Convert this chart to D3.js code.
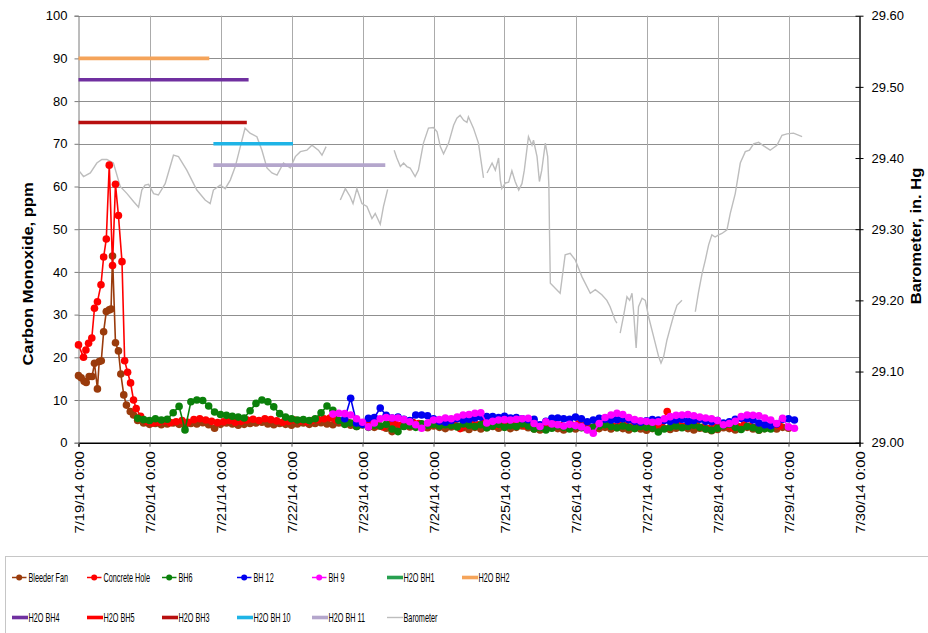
<!DOCTYPE html>
<html>
<head>
<meta charset="utf-8">
<script src="https://cdn.jsdelivr.net/npm/d3@7"></script>
<style>
body { margin: 0; background: #fff; }
text { font-family: "Liberation Sans", Arial, sans-serif; fill: #000; }
</style>
</head>
<body>
<div id="chart"></div>
<script>
// all times are hours counted from 7/19/14 0:00

// Bleeder Fan: early readings (explicit hours), then one reading every 2 h from hour 20
var bleederPeakHours = [0, 0.9, 1.9, 2.6, 3.6, 4.6, 5.4, 6.4, 7.0, 7.7, 8.5, 9.4, 10.4, 11.0, 11.5, 12.5, 13.5, 14.3, 15.3, 16.2, 17.5, 18.6];
var bleederPeakValues = [15.7, 15.2, 14.4, 14.1, 15.5, 15.5, 18.6, 12.6, 19.0, 19.2, 26.0, 30.7, 31.1, 31.3, 43.7, 23.4, 21.5, 16.1, 11.2, 8.8, 7.3, 6.5];
var bleederStart = 20;
var bleederValues = [5.2, 4.6, 4.3, 4.5, 4.2, 4.4, 4.6, 4.3, 4.1, 4.5, 4.4, 4.7, 4.2, 3.4, 4.3, 4.6, 4.4, 4.1, 4.3, 4.5,
  4.6, 4.8, 4.4, 4.2, 4.5, 4.3, 4.1, 4.4, 4.6, 4.3, 4.5, 4.7, 4.4, 4.2, 4.6, 4.4, 4.1, 3.8, 4.2, 3.9,
  3.6, 3.9, 3.4, 2.6, 3.6, 3.9, 3.7, 4.1, 3.8, 3.5, 3.9, 3.6, 3.3, 3.7, 3.9, 3.5, 3.1, 3.6, 3.2, 3.5,
  3.8, 3.4, 3.7, 3.3, 3.6, 3.9, 3.5, 3.2, 3.0, 3.4, 3.7, 3.3, 3.0, 3.4, 3.2, 3.6, 3.3, 2.9, 3.3, 3.6,
  3.2, 3.5, 3.3, 3.0, 3.4, 3.2, 2.9, 3.3, 3.6, 3.4, 3.1, 3.4, 3.7, 3.3, 3.0, 3.4, 3.2, 2.8, 3.1, 3.5,
  3.3, 3.0, 3.4, 3.6, 3.2, 2.9, 3.3, 3.5, 3.2, 3.6, 3.4];

// Concrete Hole
var concretePeakHours = [0, 1.7, 2.5, 3.4, 4.5, 5.4, 6.4, 7.6, 8.5, 9.4, 10.4, 11.5, 12.5, 13.5, 14.7, 15.6, 16.6, 17.6, 18.6, 19.5];
var concretePeakValues = [22.9, 20.0, 21.7, 23.3, 24.5, 31.5, 33.0, 37.0, 43.5, 47.7, 65.0, 41.5, 60.5, 53.2, 42.4, 19.2, 16.5, 14.0, 10.0, 8.0];
var concreteStart = 21;
var concreteValues = [6.2, 5.0, 4.6, 4.8, 5.1, 4.7, 4.9, 5.2, 4.8, 5.4, 5.6, 5.3, 5.0, 4.7, 4.9, 5.2, 4.8, 5.0, 5.3, 5.5,
  5.2, 5.6, 5.4, 5.1, 4.8, 5.0, 5.3, 5.1, 4.9, 5.2, 5.4, 5.6, 5.8, 5.3, 5.0, 4.8, 4.5, 4.2, 4.6, 4.4,
  4.0, 3.7, 4.3, 4.6, 4.1, 4.4, 4.8, 4.5, 4.2, 4.6, 4.3, 4.7, 4.4, 4.1, 3.3, 4.0, 4.5, 4.2, 4.6, 4.3,
  4.0, 4.4, 4.1, 4.5, 4.2, 3.9, 4.3, 4.0, 3.6, 3.9, 4.2, 4.0, 3.7, 4.1, 4.4, 4.0, 3.6, 3.9, 4.3, 4.1,
  3.8, 4.2, 4.0, 3.7, 4.1, 3.9, 3.6, 3.9, 4.4, 7.3, 4.5, 4.1, 3.8, 4.2, 4.0, 3.6, 3.3, 3.8, 4.1, 3.9,
  3.5, 3.8, 4.2, 3.9, 3.6, 4.0, 3.7, 4.0, 3.9];

// BH6, every 2 h from hour 20
var bh6Start = 20;
var bh6Values = [5.7, 5.4, 5.2, 5.6, 5.3, 5.5, 7.0, 8.5, 3.0, 9.6, 10.0, 9.9, 8.6, 7.2, 6.6, 6.4, 6.2, 6.0, 5.8, 7.5,
  9.2, 10.0, 9.6, 8.4, 6.8, 6.0, 5.6, 5.3, 5.4, 5.2, 5.6, 7.0, 8.6, 7.6, 5.2, 4.3, 4.6, 3.8, 4.2, 3.6,
  4.1, 3.9, 4.3, 3.2, 2.6, 3.8, 4.0, 3.6, 4.4, 4.1, 4.3, 3.9, 4.2, 4.0, 3.7, 4.4, 4.1, 3.8, 4.2, 3.5,
  3.9, 4.3, 3.6, 4.0, 3.8, 4.4, 3.9, 3.2, 3.5, 3.0, 3.4, 3.9, 3.6, 3.2, 3.8, 3.5, 3.1, 3.6, 3.9, 4.2,
  3.8, 3.5, 3.9, 3.6, 3.3, 3.8, 3.6, 3.4, 2.5, 3.2, 3.6, 3.9, 3.5, 3.8, 4.1, 3.6, 3.2, 2.9, 3.4, 3.9,
  4.3, 3.6, 3.1, 3.8, 3.5, 3.0, 3.3, 3.2];

// BH 12, every 2 h from hour 90
var bh12Start = 90;
var bh12Values = [5.6, 10.4, 4.6, 4.3, 5.7, 5.9, 8.1, 6.4, 5.8, 6.0, 5.5, 5.2, 6.5, 6.5, 6.3, 5.6, 5.0, 4.8, 5.2, 5.6,
  5.3, 5.5, 5.8, 6.0, 6.1, 6.1, 5.9, 6.2, 5.8, 5.9, 5.6, 5.4, 5.5, 4.2, 5.0, 5.7, 5.8, 5.6, 5.5, 6.0,
  5.6, 4.9, 5.3, 5.7, 5.5, 5.3, 5.4, 5.6, 5.4, 5.0, 4.8, 5.1, 5.4, 5.3, 5.2, 5.0, 5.3, 5.5, 5.0, 5.2,
  5.5, 5.0, 4.9, 5.2, 4.6, 4.9, 5.5, 5.7, 5.6, 5.3, 4.6, 4.2, 4.0, 4.4, 5.5, 5.6, 5.3];

// BH 9, every 2 h from hour 86
var bh9Start = 86;
var bh9Values = [6.7, 6.9, 6.8, 6.5, 5.6, 4.8, 3.7, 4.6, 5.6, 5.9, 5.8, 5.8, 5.4, 4.9, 4.2, 3.4, 4.6, 5.3, 5.4, 5.8,
  5.6, 6.0, 6.5, 6.6, 6.9, 7.0, 4.6, 5.0, 5.3, 5.4, 5.3, 5.5, 5.6, 5.7, 4.5, 3.8, 4.9, 4.4, 4.2, 3.9,
  4.3, 4.0, 3.7, 3.0, 2.2, 4.5, 5.9, 6.5, 6.9, 6.6, 5.9, 5.4, 5.1, 5.0, 4.8, 4.9, 5.6, 6.1, 6.4, 6.5,
  6.6, 6.3, 6.0, 5.8, 5.6, 5.2, 4.2, 4.5, 5.0, 6.1, 6.5, 6.4, 6.3, 5.8, 5.3, 4.5, 5.7, 3.7, 3.4];

// H2O levels (flat lines); null = nothing plotted
var h2oNames = ["H2O BH1", "H2O BH2", "H2O BH4", "H2O BH5", "H2O BH3", "H2O BH 10", "H2O BH 11"];
var h2oLevels = [null, 90, 85, null, 75, 70, 65];
var h2oFromHours = [null, 0, 0, null, 0, 45.6, 45.6];
var h2oToHours = [null, 44.2, 57.5, null, 56.9, 72.5, 103.7];

// Barometer, in. Hg (null = gap in the record)
var baroHours = [0, 1.7, 4.0, 6.2, 7.9, 9.6, 11.8, 14.1, 16.4, 18.6, 20.3, 21.4, 22.5, 23.7, 25.4, 27.0, 29.3, 32.1, 33.8, 36.6,
  40.0, 42.8, 44.5, 45.6, 47.9, 49.6, 51.3, 53.0, 54.7, 56.3, 58.0, 60.3, 62.0, 63.7, 65.4, 67.1, 69.3, 71.6, 73.3, 75.0,
  77.2, 78.9, 81.1, 82.3, 83.7, 85.0,
  88.5, 90.2, 91.8, 92.8, 94.1, 95.8, 97.5, 99.2, 100.3, 102.0, 103.1, 104.5, 105.5,
  106.7, 107.6, 108.8, 109.9, 111.0, 112.1, 113.8, 114.9, 116.6, 118.3, 120.0, 121.2, 122.3, 123.4, 125.1, 126.8, 127.9, 129.0, 130.2, 131.3,
  131.8, 133.5, 135.2, 136.9, 137.5,
  138.1, 139.8, 140.9, 142.0, 142.6, 143.1, 144.3, 145.4, 146.5, 147.6, 148.8, 149.9, 150.7, 152.1, 153.3, 153.8, 155.0, 155.8, 156.6, 157.8,
  158.6, 159.0, 159.2, 159.5, 162.8, 164.5, 166.2, 167.9, 170.2, 173.0, 174.7, 176.9, 178.6, 179.7, 181.4, 182.0, 182.5,
  183.1, 184.2, 185.4, 186.3, 187.1, 187.6, 188.5, 189.3, 190.5, 191.6, 192.7, 194.4, 196.1, 196.9, 197.8, 198.9, 200.0, 201.2, 202.3, 204.0, 206.0,
  208.5, 209.6, 210.8, 211.9, 213.0, 214.1, 215.2, 216.4, 217.5, 219.2, 220.3, 222.0, 223.7, 225.4, 226.8, 228.2, 229.9, 231.6, 233.8, 236.1,
  237.8, 239.5, 241.7, 244.6];
var baroValues = [29.383, 29.374, 29.379, 29.393, 29.398, 29.398, 29.393, 29.360, 29.350, 29.339, 29.331, 29.355, 29.362, 29.363, 29.350, 29.348, 29.364, 29.404, 29.402, 29.383,
  29.355, 29.341, 29.336, 29.355, 29.362, 29.357, 29.369, 29.388, 29.416, 29.442, 29.435, 29.430, 29.411, 29.386, 29.379, 29.376, 29.393, 29.386, 29.402, 29.409,
  29.411, 29.418, 29.411, 29.404, 29.416, null,
  29.341, 29.357, 29.346, 29.336, 29.357, 29.336, 29.332, 29.315, 29.322, 29.307, 29.332, 29.356, null,
  29.411, 29.400, 29.388, 29.393, 29.388, 29.386, 29.374, 29.383, 29.421, 29.442, 29.443, 29.437, 29.416, 29.406, 29.421, 29.446, 29.456, 29.460, 29.453, 29.450,
  29.458, 29.442, 29.421, 29.372, null,
  29.379, 29.393, 29.383, 29.400, 29.369, 29.357, 29.365, 29.366, 29.382, 29.367, 29.355, 29.364, 29.383, 29.430, 29.418, 29.425, 29.402, 29.367, 29.383, 29.421,
  29.402, 29.360, 29.300, 29.224, 29.210, 29.264, 29.266, 29.257, 29.233, 29.210, 29.215, 29.208, 29.200, 29.191, 29.172, 29.168, null,
  29.154, 29.177, 29.205, 29.200, 29.210, 29.186, 29.133, 29.191, 29.203, 29.200, 29.177, 29.149, 29.121, 29.112, 29.121, 29.144, 29.161, 29.179, 29.193, 29.200, null,
  29.184, 29.212, 29.238, 29.257, 29.278, 29.292, 29.289, 29.292, 29.294, 29.299, 29.322, 29.350, 29.393, 29.409, 29.411, 29.420, 29.422, 29.417, 29.411, 29.418,
  29.432, 29.434, 29.435, 29.430];

var coTicks = [0, 10, 20, 30, 40, 50, 60, 70, 80, 90, 100];
var baroTicks = [29.0, 29.1, 29.2, 29.3, 29.4, 29.5, 29.6];

// ---------------------------------------------------------------
var W = 928, H = 633;
var plotLeft = 78.5, plotRight = 859.5, plotTop = 15.7, plotBottom = 442.7;
var start = new Date(2014, 6, 19, 0, 0);
function at(h) { return new Date(start.getTime() + h * 3600000); }

var svg = d3.select("#chart").append("svg")
    .attr("width", W).attr("height", H);

var x = d3.scaleTime()
    .domain([at(0), at(264)])
    .range([plotLeft, plotRight]);
var y = d3.scaleLinear().domain([0, 100]).range([plotBottom, plotTop]);
var yBaro = d3.scaleLinear().domain([29.0, 29.6]).range([plotBottom, plotTop]);

var days = d3.timeDay.range(at(0), at(265));

// grid
svg.append("g").selectAll("line").data(coTicks.slice(1)).join("line")
    .attr("x1", plotLeft).attr("x2", plotRight)
    .attr("y1", d => Math.round(y(d)) + 0.5).attr("y2", d => Math.round(y(d)) + 0.5)
    .attr("stroke", "#8f8f8f").attr("stroke-width", 1);
svg.append("g").selectAll("line").data(days.slice(1, -1)).join("line")
    .attr("x1", d => Math.round(x(d)) + 0.5).attr("x2", d => Math.round(x(d)) + 0.5)
    .attr("y1", plotTop).attr("y2", plotBottom)
    .attr("stroke", "#ababab").attr("stroke-width", 1);

// axes
var fmt = d3.timeFormat("%-m/%-d/%y %-H:%M");
var xAxis = svg.append("g")
    .attr("transform", "translate(0," + plotBottom + ")")
    .call(d3.axisBottom(x).tickValues(days).tickFormat(fmt).tickSize(4));
xAxis.select(".domain").attr("stroke", "#000").attr("stroke-width", 1.6);
xAxis.selectAll(".tick line").attr("stroke", "#555");
xAxis.selectAll("text")
    .attr("font-size", 13)
    .attr("font-family", "Liberation Sans, Arial, sans-serif")
    .attr("x", -7.5).attr("y", 0).attr("dy", "0.36em")
    .attr("transform", "rotate(-90) scale(1.14,1)")
    .style("text-anchor", "end");

var yAxis = svg.append("g")
    .attr("transform", "translate(" + plotLeft + ",0)")
    .call(d3.axisLeft(y).tickValues(coTicks).tickSize(4).tickPadding(7));
yAxis.select(".domain").attr("stroke", "#7a7a7a");
yAxis.selectAll(".tick line").attr("stroke", "#7a7a7a");
yAxis.selectAll("text").attr("font-size", 13).attr("font-family", "Liberation Sans, Arial, sans-serif");

var rAxis = svg.append("g")
    .attr("transform", "translate(" + plotRight + ",0)")
    .call(d3.axisRight(yBaro).tickValues(baroTicks).tickFormat(d3.format(".2f"))
        .tickSizeInner(4).tickSizeOuter(0).tickPadding(8));
rAxis.select(".domain").attr("stroke", "#000").attr("stroke-width", 1.4);
rAxis.selectAll(".tick line").attr("x1", -4).attr("stroke", "#000");
rAxis.selectAll("text").attr("font-size", 13).attr("font-family", "Liberation Sans, Arial, sans-serif");

// axis titles
svg.append("text")
    .attr("transform", "translate(28,274) rotate(-90) scale(1.1,1)")
    .attr("text-anchor", "middle").attr("dy", "0.35em")
    .attr("font-size", 15).attr("font-weight", "bold")
    .text("Carbon Monoxide, ppm");
svg.append("text")
    .attr("transform", "translate(916,236) rotate(-90) scale(1.1,1)")
    .attr("text-anchor", "middle").attr("dy", "0.35em")
    .attr("font-size", 15).attr("font-weight", "bold")
    .text("Barometer, in. Hg");

// barometer
var baroData = baroHours.map((h, i) => ({ t: at(h), v: baroValues[i] }));
svg.append("path")
    .datum(baroData)
    .attr("fill", "none").attr("stroke", "#bdbdbd").attr("stroke-width", 1.4)
    .attr("d", d3.line().defined(d => d.v != null).x(d => x(d.t)).y(d => yBaro(d.v)));

// H2O level lines
var h2oColors = ["#27a050", "#f5a45a", "#7030a0", "#ff0000", "#b80f0f", "#1fb4e6", "#b4a6cc"];
h2oNames.forEach(function (name, i) {
    if (h2oLevels[i] == null) return;
    svg.append("line")
        .attr("x1", x(at(h2oFromHours[i]))).attr("x2", x(at(h2oToHours[i])))
        .attr("y1", y(h2oLevels[i])).attr("y2", y(h2oLevels[i]))
        .attr("stroke", h2oColors[i]).attr("stroke-width", 3.6);
});

// marker series
function twoHourly(startHour, values) {
    return values.map((v, i) => ({ t: at(startHour + 2 * i), v: v }));
}
function explicit(hours, values) {
    return hours.map((h, i) => ({ t: at(h), v: values[i] }));
}
var markerSeries = [
    { name: "Bleeder Fan", color: "#9a3b0c", data: explicit(bleederPeakHours, bleederPeakValues).concat(twoHourly(bleederStart, bleederValues)) },
    { name: "Concrete Hole", color: "#ff0000", data: explicit(concretePeakHours, concretePeakValues).concat(twoHourly(concreteStart, concreteValues)) },
    { name: "BH6", color: "#0a800a", data: twoHourly(bh6Start, bh6Values) },
    { name: "BH 12", color: "#0000f0", data: twoHourly(bh12Start, bh12Values) },
    { name: "BH 9", color: "#ff00ff", data: twoHourly(bh9Start, bh9Values) }
];
var line = d3.line().x(d => x(d.t)).y(d => y(d.v));
markerSeries.forEach(function (s) {
    var g = svg.append("g");
    g.append("path").datum(s.data)
        .attr("fill", "none").attr("stroke", s.color).attr("stroke-width", 1.6)
        .attr("d", line);
    g.selectAll("circle").data(s.data).join("circle")
        .attr("cx", d => x(d.t)).attr("cy", d => y(d.v)).attr("r", 3.8)
        .attr("fill", s.color);
});

// legend
svg.append("rect")
    .attr("x", 5.5).attr("y", 556.5).attr("width", 940).attr("height", 100)
    .attr("fill", "none").attr("stroke", "#c6c6c6");
var legendItems = markerSeries.map(s => ({ name: s.name, color: s.color, kind: "marker" }))
    .concat(h2oNames.map((n, i) => ({ name: n, color: h2oColors[i], kind: "thick" })))
    .concat([{ name: "Barometer", color: "#bdbdbd", kind: "thin" }]);
var li = svg.append("g").selectAll("g").data(legendItems).join("g")
    .attr("transform", (d, i) => "translate(" + (12 + 75 * (i % 7)) + "," + (i < 7 ? 577.5 : 617.5) + ")");
li.append("line")
    .attr("x1", 0).attr("x2", d => d.kind == "marker" ? 14.5 : 16)
    .attr("stroke", d => d.color)
    .attr("stroke-width", d => d.kind == "thick" ? 3.6 : (d.kind == "thin" ? 1.4 : 1.5));
li.filter(d => d.kind == "marker").append("circle")
    .attr("cx", 7.2).attr("r", 3).attr("fill", d => d.color);
li.append("text")
    .attr("transform", "translate(16.5,4.6) scale(0.56,1)")
    .attr("font-size", 13)
    .text(d => d.name);
</script>
</body>
</html>
